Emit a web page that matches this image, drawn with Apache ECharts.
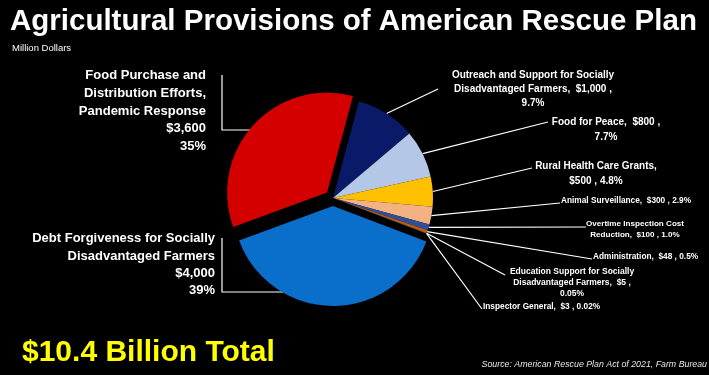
<!DOCTYPE html>
<html>
<head>
<meta charset="utf-8">
<script src="https://cdn.jsdelivr.net/npm/echarts@6/dist/echarts.min.js"></script>
<style>
  html, body { margin: 0; padding: 0; background: #000; }
  #chart { width: 709px; height: 375px; }
</style>
</head>
<body>
<div id="chart"></div>
<script>
  // data, in the order the slices run clockwise from the top
  var names = [
    'Outreach and Support for Socially\nDisadvantaged Farmers',
    'Food for Peace',
    'Rural Health Care Grants',
    'Animal Surveillance',
    'Overtime Inspection Cost\nReduction',
    'Administration',
    'Education Support for Socially\nDisadvantaged Farmers',
    'Inspector General',
    'Debt Forgiveness for Socially\nDisadvantaged Farmers',
    'Food Purchase and\nDistribution Efforts,\nPandemic Response'
  ];
  var values = [1000, 800, 500, 300, 100, 48, 5, 3, 4000, 3600];
  var pctLabels = ['9.7%', '7.7%', '4.8%', '2.9%', '1.0%', '0.5%', '0.05%', '0.02%', '39%', '35%'];
  var exploded = [8, 9]; // pulled-out slices
  var colors = ['#0b1a68', '#b4c7e7', '#ffc000', '#f4b183', '#2f4f97', '#c55a11', '#7f7f7f', '#5b9bd5', '#0a6fca', '#d40000'];

  // label placement (text anchor, separators, end of the leader line)
  var layouts = [
    { x: 533, y: 68,  align: 'center', fs: 10,  lh: 14,   a: ',  $', b: ' ,\n', end: [438, 89] },
    { x: 606, y: 115, align: 'center', fs: 10,  lh: 15,   a: ',  $', b: ' ,\n', end: [548, 122] },
    { x: 596, y: 159, align: 'center', fs: 10,  lh: 15,   a: ',\n$', b: ' , ',  end: [532, 168] },
    { x: 561, y: 196, align: 'left',   fs: 8.3, lh: 10,   a: ',  $', b: ' , ',  end: [560, 203] },
    { x: 635, y: 219, align: 'center', fs: 8.1, lh: 10.5, a: ',  $', b: ' , ',  end: [586, 227] },
    { x: 593, y: 252, align: 'left',   fs: 8.3, lh: 10,   a: ',  $', b: ' , ',  end: [592, 259] },
    { x: 572, y: 266, align: 'center', fs: 8.5, lh: 11,   a: ',  $', b: ' ,\n', end: [505, 275] },
    { x: 483, y: 302, align: 'left',   fs: 8.3, lh: 10,   a: ',  $', b: ' , ',  end: [482, 309] },
    { x: 215, y: 230, align: 'right',  fs: 13,  lh: 17.4, a: '\n$',  b: '\n',   from: [315, 292], end: [222, 238] },
    { x: 206, y: 67,  align: 'right',  fs: 13,  lh: 17.6, a: '\n$',  b: '\n',   from: [265, 130], end: [222, 75] }
  ];

  var CX = 333, CY = 198, R = 100, START = 75, PULL = 8;
  var total = values.reduce(function (s, v) { return s + v; }, 0);

  // offset of a slice's centre along its mid angle
  function pullOffset(idx) {
    var before = 0;
    for (var i = 0; i < idx; i++) before += values[i];
    var mid = (START - (before + values[idx] / 2) / total * 360) * Math.PI / 180;
    return [PULL * Math.cos(mid), -PULL * Math.sin(mid)];
  }

  function buildData(visible) {
    return values.map(function (v, i) {
      var L = layouts[i];
      var on = visible.indexOf(i) >= 0;
      var text = names[i] + L.a + v.toLocaleString('en-US') + L.b + pctLabels[i];
      return {
        value: v,
        name: names[i],
        itemStyle: { color: on ? colors[i] : 'rgba(0,0,0,0)' },
        label: {
          show: on,
          formatter: text,
          fontSize: L.fs,
          lineHeight: L.lh,
          align: L.align
        },
        labelLine: { show: on }
      };
    });
  }

  function labelLayout(p) {
    var L = layouts[p.dataIndex];
    var start = L.from || (p.labelLinePoints && p.labelLinePoints[0]) || L.end;
    var pts = L.from ? [start, [L.end[0], start[1]], L.end] : [start, L.end, L.end];
    return { x: L.x, y: L.y, align: L.align, verticalAlign: 'top', labelLinePoints: pts };
  }

  function pieSeries(visible, off) {
    return {
      type: 'pie',
      center: [CX + off[0], CY + off[1]],
      radius: R,
      startAngle: START,
      clockwise: true,
      avoidLabelOverlap: false,
      silent: true,
      emphasis: { disabled: true },
      label: {
        position: 'outside',
        color: '#fff',
        fontWeight: 'bold',
        fontFamily: '"Liberation Sans", Arial, sans-serif'
      },
      labelLine: {
        length: 10,
        length2: 10,
        lineStyle: { color: '#fff', width: 1.2 }
      },
      labelLayout: labelLayout,
      data: buildData(visible)
    };
  }

  var baseVisible = values.map(function (v, i) { return i; }).filter(function (i) { return exploded.indexOf(i) < 0; });
  var series = [pieSeries(baseVisible, [0, 0])];
  exploded.forEach(function (idx) {
    series.push(pieSeries([idx], pullOffset(idx)));
  });

  var chart = echarts.init(document.getElementById('chart'));
  chart.setOption({
    backgroundColor: '#000',
    animation: false,
    title: [
      {
        text: 'Agricultural Provisions of American Rescue Plan',
        left: 10,
        top: 7,
        padding: 0,
        textStyle: { color: '#fff', fontSize: 29.5, fontWeight: 'bold', fontFamily: '"Liberation Sans", Arial, sans-serif' }
      },
      {
        text: 'Million Dollars',
        left: 12,
        top: 43,
        padding: 0,
        textStyle: { color: '#fff', fontSize: 9.5, fontWeight: 'normal', fontFamily: '"Liberation Sans", Arial, sans-serif' }
      },
      {
        text: '$10.4 Billion Total',
        left: 22,
        top: 338,
        padding: 0,
        textStyle: { color: '#ffff00', fontSize: 30, fontWeight: 'bold', fontFamily: '"Liberation Sans", Arial, sans-serif' }
      },
      {
        text: 'Source: American Rescue Plan Act of 2021, Farm Bureau',
        right: 2,
        top: 360,
        padding: 0,
        textStyle: { color: '#e6e6e6', fontSize: 8.8, fontWeight: 'normal', fontStyle: 'italic', fontFamily: '"Liberation Sans", Arial, sans-serif' }
      }
    ],
    tooltip: { show: false },
    series: series
  });
</script>
</body>
</html>
